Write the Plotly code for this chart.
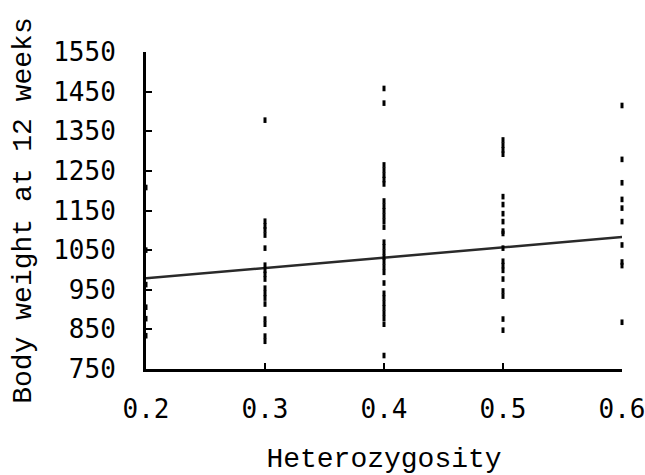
import plotly.graph_objects as go

# Heterozygosity levels and body weight at 12 weeks (g)
het_levels = [0.2, 0.3, 0.4, 0.5, 0.6]
bw_02 = [1208, 1050, 963, 906, 877, 834]
bw_03 = [1378, 1123, 1111, 1101, 1088, 1055, 1012, 999, 989, 977,
         954, 941, 929, 914, 876, 863, 833, 820]
bw_04 = [1458, 1421, 1265, 1252, 1239, 1228, 1217, 1174, 1161, 1149, 1136,
         1123, 1108, 1070, 1058, 1045, 1032, 1020, 1007, 994, 967, 941, 929,
         916, 904, 891, 878, 863, 784]
bw_05 = [1328, 1315, 1303, 1292, 1185, 1165, 1142, 1122, 1098, 1092, 1055,
         1022, 1011, 999, 977, 947, 934, 876, 848]
bw_06 = [1415, 1279, 1220, 1178, 1156, 1122, 1063, 1020, 1011, 868]
bw_groups = [bw_02, bw_03, bw_04, bw_05, bw_06]

# Fitted regression line
fit_x = [0.2, 0.6]
fit_y = [979, 1083]

x_ticks = [0.2, 0.3, 0.4, 0.5, 0.6]
x_tick_text = ["0.2", "0.3", "0.4", "0.5", "0.6"]
y_ticks = [750, 850, 950, 1050, 1150, 1250, 1350, 1450, 1550]

xs, ys = [], []
for h, grp in zip(het_levels, bw_groups):
    for v in grp:
        xs.append(h)
        ys.append(v)

fig = go.Figure()
fig.add_trace(go.Scatter(
    x=fit_x, y=fit_y, mode="lines",
    line=dict(color="#2a2a2a", width=2.5),
    showlegend=False, hoverinfo="skip", cliponaxis=False,
))
fig.add_trace(go.Scatter(
    x=xs, y=ys, mode="markers",
    marker=dict(symbol="line-ns", size=4, line=dict(color="black", width=3)),
    showlegend=False, cliponaxis=False,
))

tick_font = dict(family="DejaVu Sans Mono", size=26, color="black")
title_font = dict(family="Liberation Mono", size=28, color="black")

fig.update_layout(
    width=645, height=475,
    margin=dict(l=146, r=23, t=52, b=106, pad=0, autoexpand=False),
    paper_bgcolor="white", plot_bgcolor="white",
    xaxis=dict(
        range=[0.2, 0.6], tickvals=x_ticks, ticktext=x_tick_text,
        showgrid=False, zeroline=False, automargin=False,
        showline=True, linecolor="black", linewidth=3,
        ticks="inside", ticklen=6, tickwidth=2, tickcolor="black",
        tickfont=tick_font, ticklabelstandoff=15, ticklabeloverflow="allow",
        title=dict(text="Heterozygosity", font=title_font, standoff=26),
    ),
    yaxis=dict(
        range=[750, 1550], tickvals=y_ticks,
        showgrid=False, zeroline=False, automargin=False,
        showline=True, linecolor="black", linewidth=3,
        ticks="inside", ticklen=6, tickwidth=2, tickcolor="black",
        tickfont=tick_font, ticklabelstandoff=22, ticklabeloverflow="allow",
        title=dict(text="Body weight at 12 weeks", font=title_font, standoff=14),
    ),
)

fig.write_html(
    "out.html",
    config={"displayModeBar": False},
    post_script="document.body.style.margin='0';document.body.style.overflow='hidden';",
)
